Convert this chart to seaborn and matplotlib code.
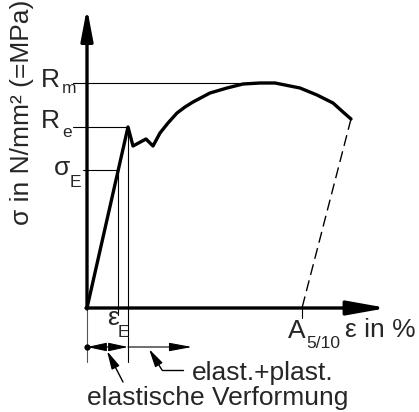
import numpy as np
import pandas as pd
import matplotlib
matplotlib.use("Agg")
import matplotlib.pyplot as plt
import seaborn as sns

# schematic stress-strain curve (drawing units, origin at the axis cross)
strain = [0, 41, 46, 59, 66, 73, 81, 90, 98, 106, 123, 140, 156, 173, 188, 213, 230, 246, 256, 264]
stress = [0, 181, 162, 169, 162, 175, 185, 195, 201, 206, 215, 220, 224, 225, 225, 220, 213, 205, 196, 189]

# characteristic values
R_m = 225
R_e = 181
sigma_E = 138
eps_E = 31
eps_Re = 41
A_break = 215

sns.set_style("white")
plt.rcParams['font.family'] = ['Liberation Sans', 'DejaVu Sans']

fig = plt.figure(figsize=(4.19, 4.12), dpi=100)
ax = fig.add_axes([0, 0, 1, 1])
ax.set_xlim(-87, 332)
ax.set_ylim(-104, 308)
ax.axis("off")

curve = pd.DataFrame({"strain": strain, "stress": stress})
sns.lineplot(data=curve, x="strain", y="stress", sort=False, estimator=None,
             color="black", lw=2.4, ax=ax)

# unloading line down to the strain at fracture
ax.plot([strain[-1], A_break], [stress[-1], 0], color="black", lw=1.0,
        dashes=(8, 4))

# axes with arrow heads
ax.annotate("", xy=(0, 300), xytext=(0, -1),
            arrowprops=dict(arrowstyle="-|>,head_length=19,head_width=3.6",
                            mutation_scale=1, lw=2.4, color="black",
                            shrinkA=0, shrinkB=0))
ax.annotate("", xy=(300, 0), xytext=(-1, 0),
            arrowprops=dict(arrowstyle="-|>,head_length=24,head_width=4.3",
                            mutation_scale=1, lw=2.4, color="black",
                            shrinkA=0, shrinkB=0))

# helper lines
thin = dict(color="black", lw=0.8)
ax.plot([-14, 173], [R_m, R_m], **thin)
ax.plot([-14, eps_Re], [R_e, R_e], **thin)
ax.plot([-4, eps_E], [sigma_E, sigma_E], **thin)
ax.plot([eps_E, eps_E], [sigma_E, -7], **thin)
ax.plot([eps_Re, eps_Re], [R_e, -54], **thin)
ax.plot([0, 0], [0, -54], color="#555555", lw=0.8)
ax.plot([A_break, A_break], [0, -10], **thin)

# deformation arrows
y_arr = -39
ax.plot([0], [y_arr], "o", color="black", ms=3.5)
ax.annotate("", xy=(0, y_arr), xytext=(eps_Re, y_arr),
            arrowprops=dict(arrowstyle="<|-|>,head_length=12,head_width=2.6",
                            mutation_scale=1, lw=0.8, color="black",
                            shrinkA=0, shrinkB=0))
ax.annotate("", xy=(105, y_arr), xytext=(eps_Re, y_arr),
            arrowprops=dict(arrowstyle="-|>,head_length=14,head_width=2.6",
                            mutation_scale=1, lw=0.8, color="black",
                            shrinkA=0, shrinkB=0))
ax.annotate("", xy=(20, -43), xytext=(36, -74),
            arrowprops=dict(arrowstyle="-|>,head_length=11,head_width=2.6",
                            mutation_scale=1, lw=1.0, color="black",
                            shrinkA=0, shrinkB=0))
ax.plot([96, 75], [-62, -62], color="black", lw=1.0)
ax.annotate("", xy=(62, -41), xytext=(75, -62),
            arrowprops=dict(arrowstyle="-|>,head_length=11,head_width=2.6",
                            mutation_scale=1, lw=1.0, color="black",
                            shrinkA=0, shrinkB=0))

# labels
fs, fss = 19, 12.5
ax.text(-65, 196, "σ in N/mm² (=MPa)", rotation=90, ha="center", va="center", fontsize=fs)
ax.text(-46, 221, "R", fontsize=fs, va="baseline")
ax.text(-25, 215, "m", fontsize=fss, va="baseline")
ax.text(-46, 180, "R", fontsize=fs, va="baseline")
ax.text(-25, 171, "e", fontsize=fss, va="baseline")
ax.text(-33, 133, "σ", fontsize=fs, va="baseline")
ax.text(-17, 121, "E", fontsize=fss, va="baseline")
ax.text(20, -17, "ε", fontsize=fs, va="baseline")
ax.text(31, -29, "E", fontsize=fss, va="baseline")
ax.text(201, -30, "A", fontsize=fs, va="baseline")
ax.text(219, -40, "5/10", fontsize=fss, va="baseline")
ax.text(258, -29, "ε in %", fontsize=fs, va="baseline")
ax.text(105, -72, "elast.+plast.", fontsize=fs, va="baseline")
ax.text(0, -97, "elastische Verformung", fontsize=fs, va="baseline")

fig.savefig("out.png", dpi=100)
